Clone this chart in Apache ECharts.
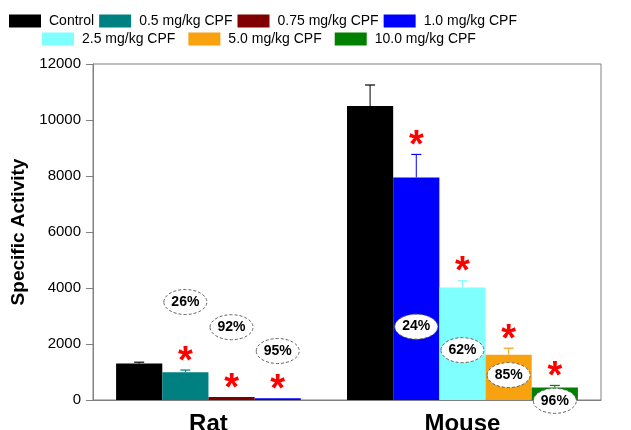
<!DOCTYPE html>
<html>
<head>
<meta charset="utf-8">
<script src="https://cdn.jsdelivr.net/npm/echarts@6/dist/echarts.min.js"></script>
<style>
html, body { margin: 0; padding: 0; background: #fff; }
#main { width: 631px; height: 430px; }
</style>
</head>
<body>
<div id="main"></div>
<script>
// 图例（剂量组）
var doses = ['Control', '0.5 mg/kg CPF', '0.75 mg/kg CPF', '1.0 mg/kg CPF', '2.5 mg/kg CPF', '5.0 mg/kg CPF', '10.0 mg/kg CPF'];
var doseColors = ['#000000', '#008080', '#800000', '#0000ff', '#80ffff', '#f8a20f', '#008000'];
var groups = ['Rat', 'Mouse'];

// Rat
var ratDoses = ['Control', '0.5 mg/kg CPF', '0.75 mg/kg CPF', '1.0 mg/kg CPF'];
var ratMean = [1300, 990, 105, 62];
var ratSem = [50, 80, 0, 0];
var ratPct = ['', '26%', '92%', '95%'];
var ratPctAt = [0, 3500, 2600, 1750];

// Mouse
var mouseDoses = ['Control', '1.0 mg/kg CPF', '2.5 mg/kg CPF', '5.0 mg/kg CPF', '10.0 mg/kg CPF'];
var mouseMean = [10500, 7950, 4020, 1620, 450];
var mouseSem = [750, 820, 240, 230, 70];
var mousePct = ['', '24%', '62%', '85%', '96%'];
var mousePctAt = [0, 2620, 1780, 890, -30];

// y轴
var yMin = 0, yMax = 12000, yStep = 2000;

var FONT = '"Liberation Sans", Arial, sans-serif';

// 每个柱子占两个半格，boundaryGap=false
var nSlots = 23;
var groupStart = [2, 12];
var groupData = [
    {doses: ratDoses, mean: ratMean, sem: ratSem, pct: ratPct, pctAt: ratPctAt},
    {doses: mouseDoses, mean: mouseMean, sem: mouseSem, pct: mousePct, pctAt: mousePctAt}
];

var cats = [];
for (var i = 0; i < nSlots; i++) cats.push('');
var barData = doses.map(function () {
    var a = [];
    for (var i = 0; i < nSlots; i++) a.push('-');
    return a;
});
var errData = [], starData = [], pctData = [], pctText = [];

groupData.forEach(function (g, gi) {
    cats[groupStart[gi] + g.doses.length - 1] = groups[gi];
    g.doses.forEach(function (d, i) {
        var slot = groupStart[gi] + 2 * i;
        var di = doses.indexOf(d);
        barData[di][slot] = g.mean[i];
        if (g.sem[i] > 0) errData.push([slot, g.mean[i], g.mean[i] + g.sem[i], di]);
        if (g.pct[i]) {
            starData.push([slot, g.mean[i] + g.sem[i]]);
            pctData.push([slot, g.pctAt[i]]);
            pctText.push(g.pct[i]);
        }
    });
});

var series = doses.map(function (d, di) {
    return {
        name: d,
        type: 'bar',
        data: barData[di],
        barWidth: '200%',
        barGap: '-100%',
        itemStyle: {color: doseColors[di]},
        z: 2
    };
});

// 误差线
series.push({
    name: 'err',
    type: 'custom',
    data: errData,
    z: 3,
    renderItem: function (params, api) {
        var base = api.coord([api.value(0), api.value(1)]);
        var top = api.coord([api.value(0), api.value(2)]);
        var c = doseColors[api.value(3)];
        return {
            type: 'group',
            children: [
                {type: 'line', shape: {x1: base[0], y1: base[1], x2: top[0], y2: top[1]}, style: {stroke: c, lineWidth: 1}},
                {type: 'line', shape: {x1: top[0] - 5, y1: top[1], x2: top[0] + 5, y2: top[1]}, style: {stroke: c, lineWidth: 1.2}}
            ]
        };
    }
});

// 显著性星号
series.push({
    name: 'star',
    type: 'custom',
    data: starData,
    z: 4,
    renderItem: function (params, api) {
        var p = api.coord([api.value(0), api.value(1)]);
        return {
            type: 'text',
            x: p[0],
            y: p[1] - 8,
            style: {text: '*', fill: '#ff0000', font: 'bold 38px ' + FONT, align: 'center', verticalAlign: 'middle'}
        };
    }
});

// 抑制百分比
series.push({
    name: 'pct',
    type: 'custom',
    data: pctData,
    z: 5,
    clip: false,
    renderItem: function (params, api) {
        var p = api.coord([api.value(0), api.value(1)]);
        return {
            type: 'group',
            children: [
                {type: 'ellipse', shape: {cx: p[0], cy: p[1], rx: 21.5, ry: 12.5},
                    style: {fill: '#ffffff', stroke: '#666666', lineWidth: 1, lineDash: [3, 2]}},
                {type: 'text', x: p[0], y: p[1],
                    style: {text: pctText[params.dataIndex], fill: '#000', font: 'bold 14px ' + FONT, align: 'center', verticalAlign: 'middle'}}
            ]
        };
    }
});

var myChart = echarts.init(document.getElementById('main'));
var option = {
    backgroundColor: '#ffffff',
    animation: false,
    legend: [{
        data: doses.slice(0, 4),
        left: 9,
        top: 14,
        padding: 0,
        itemGap: 5,
        itemWidth: 32,
        itemHeight: 13,
        icon: 'rect',
        textStyle: {fontSize: 14, color: '#000', fontFamily: FONT, padding: [0, 0, 0, 3]}
    }, {
        data: doses.slice(4),
        left: 42,
        top: 32,
        padding: 0,
        itemGap: 13,
        itemWidth: 32,
        itemHeight: 13,
        icon: 'rect',
        textStyle: {fontSize: 14, color: '#000', fontFamily: FONT, padding: [0, 0, 0, 3]}
    }],
    grid: {
        left: 93,
        right: 30,
        top: 64,
        bottom: 30,
        show: true,
        borderColor: '#808080',
        borderWidth: 1,
        containLabel: false,
        outerBoundsMode: 'none'
    },
    xAxis: {
        type: 'category',
        data: cats,
        boundaryGap: false,
        axisLine: {lineStyle: {color: '#808080', width: 1}},
        axisTick: {show: false},
        axisLabel: {interval: 0, fontSize: 24, fontWeight: 'bold', color: '#000', fontFamily: FONT, margin: 12},
        splitLine: {show: false}
    },
    yAxis: {
        type: 'value',
        min: yMin,
        max: yMax,
        interval: yStep,
        name: 'Specific Activity',
        nameLocation: 'middle',
        nameGap: 54,
        nameTextStyle: {fontSize: 19, fontWeight: 'bold', color: '#000', fontFamily: FONT},
        axisLine: {show: true, lineStyle: {color: '#808080', width: 1}},
        axisTick: {show: true, length: 7, lineStyle: {color: '#808080'}},
        axisLabel: {fontSize: 15, color: '#000', fontFamily: FONT, margin: 12,
            formatter: function (v) { return String(v); }},
        splitLine: {show: false}
    },
    series: series
};
myChart.setOption(option);
</script>
</body>
</html>
